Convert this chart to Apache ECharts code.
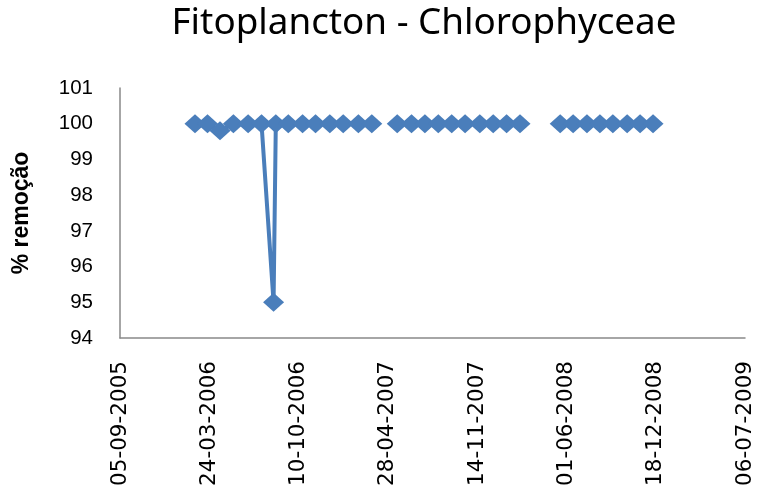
<!DOCTYPE html>
<html>
<head>
<meta charset="utf-8">
<script src="https://cdn.jsdelivr.net/npm/echarts@6/dist/echarts.min.js"></script>
<style>html,body{margin:0;padding:0;background:#fff;}#c{width:760px;height:492px;}</style>
</head>
<body>
<div id="c"></div>
<script>
// Sampling dates (dd-mm-yyyy) and % removal, per continuous segment
const datesSeg1 = ['20-02-2006','20-03-2006','17-04-2006','17-05-2006','19-06-2006','19-07-2006','15-08-2006','20-08-2006','17-09-2006','19-10-2006','17-11-2006','19-12-2006','18-01-2007','21-02-2007','23-03-2007'];
const valuesSeg1 = [100,100,99.8,100,100,100,95,100,100,100,100,100,100,100,100];
const datesSeg2 = ['19-05-2007','20-06-2007','20-07-2007','19-08-2007','18-09-2007','18-10-2007','20-11-2007','20-12-2007','19-01-2008','18-02-2008'];
const valuesSeg2 = [100,100,100,100,100,100,100,100,100,100];
const datesSeg3 = ['18-05-2008','16-06-2008','17-07-2008','15-08-2008','13-09-2008','15-10-2008','13-11-2008','12-12-2008'];
const valuesSeg3 = [100,100,100,100,100,100,100,100];
const xTickLabels = ['05-09-2005','24-03-2006','10-10-2006','28-04-2007','14-11-2007','01-06-2008','18-12-2008','06-07-2009'];
const yTicks = [94,95,96,97,98,99,100,101];

const DAY = 86400000;
function parse(s){const p=s.split('-');return Date.UTC(+p[2],+p[1]-1,+p[0]);}
const base = parse(xTickLabels[0]);
const lastTick = parse(xTickLabels[xTickLabels.length-1]);
const step = (parse(xTickLabels[1]) - base)/DAY;
function dayOf(s){return Math.round((parse(s)-base)/DAY);}
function pad(n){return (n<10?'0':'')+n;}
function fmt(d){const t=new Date(base+d*DAY);return pad(t.getUTCDate())+'-'+pad(t.getUTCMonth()+1)+'-'+t.getUTCFullYear();}
function seg(ds,vs){return ds.map((d,i)=>[dayOf(d),vs[i]]);}

const color='#4A7EBB';
function mk(data){return {type:'line',data:data,symbol:'diamond',symbolSize:[21,19],
  lineStyle:{color:color,width:4},itemStyle:{color:color},showSymbol:true,animation:false};}

const chart = echarts.init(document.getElementById('c'),null,{renderer:'canvas'});
chart.setOption({
  backgroundColor:'#fff',
  animation:false,
  title:{text:'Fitoplancton - Chlorophyceae',left:419,top:0,textAlign:'center',
    textStyle:{fontFamily:'Noto Sans',fontSize:36.8,fontWeight:'normal',color:'#000'}},
  grid:{left:120,right:15,top:88,bottom:154},
  xAxis:{type:'value',min:0,max:(lastTick-base)/DAY,interval:step,
    axisLine:{lineStyle:{color:'#898989',width:1.5}},axisTick:{show:false},splitLine:{show:false},
    axisLabel:{rotate:90,margin:23,formatter:v=>fmt(v),fontFamily:'DejaVu Sans',fontSize:21.5,color:'#000'}},
  yAxis:{type:'value',min:yTicks[0],max:yTicks[yTicks.length-1],interval:1,
    name:'% remoção',nameLocation:'middle',nameGap:87,nameRotate:90,
    nameTextStyle:{fontFamily:'Liberation Sans',fontWeight:'bold',fontSize:23,color:'#000'},
    axisLine:{show:true,lineStyle:{color:'#898989',width:1.5}},axisTick:{show:false},splitLine:{show:false},
    axisLabel:{margin:27,fontFamily:'Liberation Sans',fontSize:20.5,color:'#000'}},
  series:[mk(seg(datesSeg1,valuesSeg1)),mk(seg(datesSeg2,valuesSeg2)),mk(seg(datesSeg3,valuesSeg3))]
});
</script>
</body>
</html>
